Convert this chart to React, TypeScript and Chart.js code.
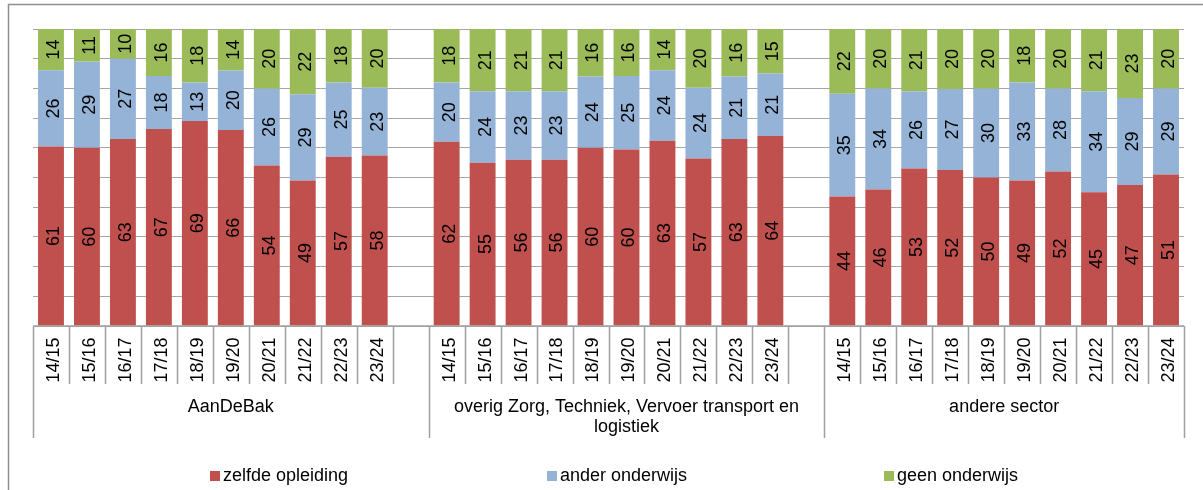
import React, { useEffect, useRef } from 'react';
import { Chart, registerables } from 'chart.js';

Chart.register(...registerables);

const years = ['14/15', '15/16', '16/17', '17/18', '18/19', '19/20', '20/21', '21/22', '22/23', '23/24'];
const groupLabelLines = [
  ['AanDeBak'],
  ['overig Zorg, Techniek, Vervoer transport en', 'logistiek'],
  ['andere sector'],
];
const seriesNames = ['zelfde opleiding', 'ander onderwijs', 'geen onderwijs'];
const seriesColors = ['#C0504D', '#95B3D7', '#9BBB59'];

// AanDeBak
const zelfdeAanDeBak = [61, 60, 63, 67, 69, 66, 54, 49, 57, 58];
const anderAanDeBak = [26, 29, 27, 18, 13, 20, 26, 29, 25, 23];
const geenAanDeBak = [14, 11, 10, 16, 18, 14, 20, 22, 18, 20];
// overig Zorg, Techniek, Vervoer transport en logistiek
const zelfdeOverig = [62, 55, 56, 56, 60, 60, 63, 57, 63, 64];
const anderOverig = [20, 24, 23, 23, 24, 25, 24, 24, 21, 21];
const geenOverig = [18, 21, 21, 21, 16, 16, 14, 20, 16, 15];
// andere sector
const zelfdeAndere = [44, 46, 53, 52, 50, 49, 52, 45, 47, 51];
const anderAndere = [35, 34, 26, 27, 30, 33, 28, 34, 29, 29];
const geenAndere = [22, 20, 21, 20, 20, 18, 20, 21, 23, 20];

const seriesByGroup = [
  [zelfdeAanDeBak, anderAanDeBak, geenAanDeBak],
  [zelfdeOverig, anderOverig, geenOverig],
  [zelfdeAndere, anderAndere, geenAndere],
];

const FONT = '"Liberation Sans", Arial, sans-serif';

function buildData() {
  const labels: string[] = [];
  const raw: (number | null)[][] = [[], [], []];
  const groupStarts: number[] = [];
  seriesByGroup.forEach((grp, gi) => {
    groupStarts.push(labels.length);
    years.forEach((y, yi) => {
      labels.push(y);
      for (let s = 0; s < 3; s++) raw[s].push(grp[s][yi]);
    });
    if (gi < seriesByGroup.length - 1) {
      labels.push('');
      for (let s = 0; s < 3; s++) raw[s].push(null);
    }
  });
  groupStarts.push(labels.length);
  const pct = raw.map((arr) =>
    arr.map((v, i) => {
      if (v === null) return null;
      const total = (raw[0][i] as number) + (raw[1][i] as number) + (raw[2][i] as number);
      return (v / total) * 100;
    })
  );
  return { labels, raw, pct, groupStarts };
}

export default function App() {
  const ref = useRef<HTMLCanvasElement | null>(null);

  useEffect(() => {
    if (!ref.current) return;
    const { labels, raw, pct, groupStarts } = buildData();

    const plugin = {
      id: 'excelLook',
      beforeDraw(chart: any) {
        const ctx = chart.ctx;
        ctx.save();
        ctx.fillStyle = '#ffffff';
        ctx.fillRect(0, 0, chart.width, chart.height);
        ctx.strokeStyle = '#8F8F8F';
        ctx.lineWidth = 1.5;
        ctx.strokeRect(8.5, 4.5, chart.width + 40, chart.height + 40);
        ctx.restore();
      },
      afterDatasetsDraw(chart: any) {
        const ctx = chart.ctx;
        ctx.save();
        ctx.font = `18px ${FONT}`;
        ctx.fillStyle = '#000000';
        ctx.textAlign = 'center';
        ctx.textBaseline = 'alphabetic';
        const capHalf = 0.716 * 18 / 2;
        chart.data.datasets.forEach((ds: any, di: number) => {
          const meta = chart.getDatasetMeta(di);
          meta.data.forEach((el: any, i: number) => {
            const v = raw[di][i];
            if (v === null || v === undefined) return;
            const cy = (el.y + el.base) / 2;
            ctx.save();
            ctx.translate(el.x, cy);
            ctx.rotate(-Math.PI / 2);
            ctx.fillText(String(v), 0, capHalf + 1.5);
            ctx.restore();
          });
        });
        ctx.restore();
      },
      afterDraw(chart: any) {
        const ctx = chart.ctx;
        const xs = chart.scales.x;
        const area = chart.chartArea;
        const n = labels.length;
        const slot = xs.getPixelForValue(1) - xs.getPixelForValue(0);
        const boundary = (i: number) =>
          i < n ? xs.getPixelForValue(i) - slot / 2 : xs.getPixelForValue(n - 1) + slot / 2;
        const bottom = area.bottom;
        ctx.save();
        ctx.strokeStyle = '#A0A0A0';
        ctx.lineWidth = 1.5;
        ctx.beginPath();
        ctx.moveTo(boundary(0), bottom);
        ctx.lineTo(boundary(n), bottom);
        for (let i = 0; i <= n; i++) {
          const x = Math.round(boundary(i)) + 0.5;
          const isGroup = groupStarts.includes(i);
          ctx.moveTo(x, bottom);
          ctx.lineTo(x, bottom + (isGroup ? 112 : 58));
        }
        ctx.stroke();

        ctx.fillStyle = '#000000';
        ctx.font = `18px ${FONT}`;
        ctx.textAlign = 'center';
        ctx.textBaseline = 'alphabetic';
        const capHalf = 0.716 * 18 / 2;
        labels.forEach((lab, i) => {
          if (!lab) return;
          const x = xs.getPixelForValue(i);
          ctx.save();
          ctx.translate(x, bottom + 34);
          ctx.rotate(-Math.PI / 2);
          ctx.fillText(lab, 0, capHalf + 1.5);
          ctx.restore();
        });

        ctx.textBaseline = 'middle';
        groupLabelLines.forEach((lines, gi) => {
          const cx = (boundary(groupStarts[gi]) + boundary(groupStarts[gi + 1])) / 2;
          lines.forEach((line, li) => {
            ctx.fillText(line, cx, bottom + 81 + li * 20);
          });
        });

        // legend
        ctx.textAlign = 'left';
        chart.data.datasets.forEach((ds: any, di: number) => {
          const x0 = 210 + di * 337;
          ctx.fillStyle = ds.backgroundColor;
          ctx.fillRect(x0, 471, 10, 10);
          ctx.fillStyle = '#000000';
          ctx.fillText(ds.label, x0 + 13, 476);
        });
        ctx.restore();
      },
    };

    const chart = new Chart(ref.current, {
      type: 'bar',
      data: {
        labels,
        datasets: seriesNames.map((name, si) => ({
          label: name,
          data: pct[si],
          backgroundColor: seriesColors[si],
          borderWidth: 0,
          categoryPercentage: 1,
          barPercentage: 0.72,
        })),
      },
      options: {
        responsive: false,
        animation: false,
        layout: { padding: { left: 33, top: 29, right: 19, bottom: 164 } },
        plugins: { legend: { display: false }, tooltip: { enabled: false } },
        scales: {
          x: { display: false, stacked: true },
          y: {
            stacked: true,
            min: 0,
            max: 100,
            ticks: { display: false, stepSize: 10 },
            grid: { color: '#A6A6A6', lineWidth: 1, drawTicks: false },
            border: { display: false },
          },
        },
      },
      plugins: [plugin],
    } as any);
    return () => chart.destroy();
  }, []);

  return (
    <canvas
      ref={ref}
      width={1203}
      height={490}
      style={{ position: 'fixed', left: 0, top: 0, width: 1203, height: 490, display: 'block' }}
    />
  );
}
